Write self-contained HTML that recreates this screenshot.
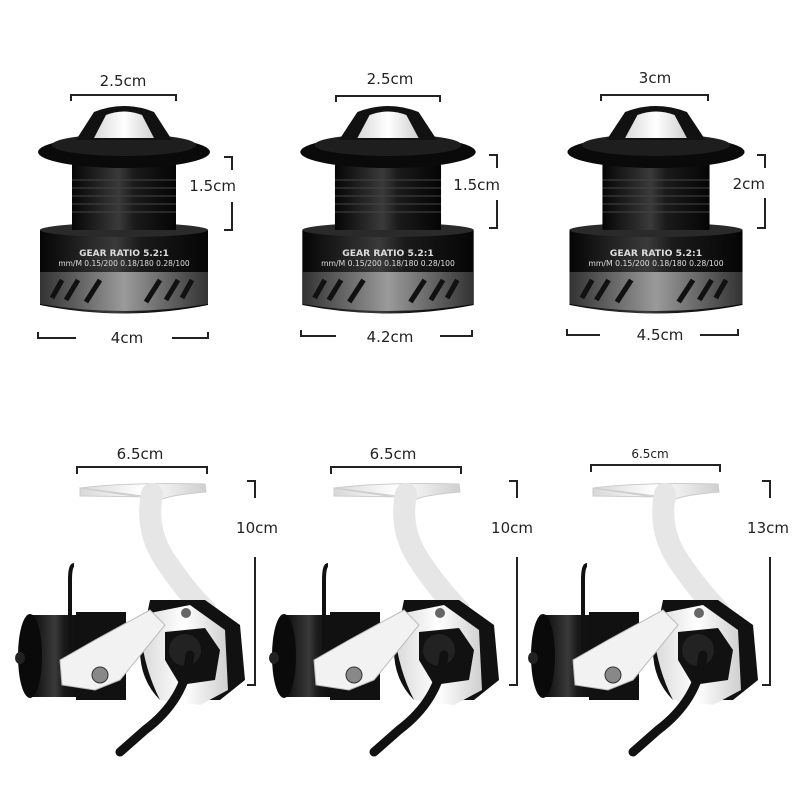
<!DOCTYPE html>
<html><head><meta charset="utf-8"><style>
body{margin:0;background:#fff}
svg{display:block}
text{font-family:"DejaVu Sans","Liberation Sans",sans-serif;fill:#222}
</style></head><body>
<svg width="800" height="800" viewBox="0 0 800 800" xmlns="http://www.w3.org/2000/svg">
<defs>
<linearGradient id="blk" x1="0" x2="1"><stop offset="0" stop-color="#050505"/><stop offset=".45" stop-color="#3a3a3a"/><stop offset=".6" stop-color="#1a1a1a"/><stop offset="1" stop-color="#050505"/></linearGradient>
<linearGradient id="gry" x1="0" x2="1"><stop offset="0" stop-color="#333"/><stop offset=".5" stop-color="#9a9a9a"/><stop offset="1" stop-color="#333"/></linearGradient>
<linearGradient id="wht" x1="0" x2="1"><stop offset="0" stop-color="#d8d8d8"/><stop offset=".5" stop-color="#fff"/><stop offset="1" stop-color="#cfcfcf"/></linearGradient>
<g id="spool">
 <path d="M-84 230 L84 230 L84 305 Q0 322 -84 305 Z" fill="url(#blk)"/>
 <path d="M-84 272 L84 272 L84 304 Q0 318 -84 304 Z" fill="url(#gry)"/>
 <g stroke="#111" stroke-width="5">
  <line x1="-72" y1="298" x2="-62" y2="280"/><line x1="-58" y1="300" x2="-46" y2="280"/><line x1="-38" y1="302" x2="-24" y2="280"/>
  <line x1="22" y1="302" x2="36" y2="280"/><line x1="42" y1="300" x2="54" y2="280"/><line x1="58" y1="298" x2="68" y2="280"/>
 </g>
 <ellipse cx="0" cy="230" rx="84" ry="7" fill="#2a2a2a"/>
 <rect x="-52" y="160" width="104" height="70" fill="url(#blk)"/>
 <g stroke="#444" stroke-width="1"><line x1="-52" y1="180" x2="52" y2="180"/><line x1="-52" y1="188" x2="52" y2="188"/><line x1="-52" y1="196" x2="52" y2="196"/><line x1="-52" y1="204" x2="52" y2="204"/><line x1="-52" y1="212" x2="52" y2="212"/></g>
 <ellipse cx="0" cy="152" rx="86" ry="16" fill="#0a0a0a"/>
 <ellipse cx="0" cy="145" rx="72" ry="11" fill="#1e1e1e"/>
 <path d="M-48 140 L-30 112 Q0 100 30 112 L48 140 Z" fill="#111"/>
 <path d="M-30 138 L-18 115 Q0 108 18 115 L30 138 Z" fill="url(#wht)"/>
 <text x="0" y="256" text-anchor="middle" font-size="9" font-weight="bold" style="fill:#ddd">GEAR RATIO 5.2:1</text>
 <text x="0" y="266" text-anchor="middle" font-size="7.5" style="fill:#ddd">mm/M 0.15/200 0.18/180 0.28/100</text>
</g>
<g id="reel">
 <rect x="28" y="615" width="60" height="82" fill="url(#blk)"/>
 <ellipse cx="30" cy="656" rx="12" ry="42" fill="#0a0a0a"/>
 <ellipse cx="20" cy="658" rx="5" ry="6" fill="#222"/>
 <path d="M70 650 L70 580 Q70 565 74 565" stroke="#111" stroke-width="4" fill="none"/>
 <rect x="76" y="612" width="50" height="88" fill="#111"/>
 <path d="M80 488 Q130 482 205 484 L206 492 Q170 495 160 500 Z M80 488 L80 496 L150 497 Z" fill="url(#wht)" stroke="#ccc" stroke-width="1"/>
 <path d="M152 494 Q145 530 165 560 Q185 590 205 610" stroke="#e6e6e6" stroke-width="22" fill="none" stroke-linecap="round"/>
 <path d="M150 600 L205 600 L240 625 L245 680 L220 700 L160 700 Q140 680 140 650 Z" fill="#111"/>
 <path d="M140 615 L190 605 L225 630 L228 690 L200 705 L160 700 Q140 660 140 615 Z" fill="url(#wht)"/>
 <path d="M60 660 L95 640 L150 610 L165 625 L120 680 L95 690 L62 685 Z" fill="#f2f2f2" stroke="#bbb"/>
 <circle cx="100" cy="675" r="8" fill="#888" stroke="#333"/>
 <circle cx="186" cy="613" r="5" fill="#666"/>
 <path d="M165 632 L205 628 L220 650 L215 680 L180 685 L165 660 Z" fill="#111"/>
 <circle cx="185" cy="650" r="16" fill="#222"/>
 <path d="M190 655 Q185 700 145 730 L120 752" stroke="#111" stroke-width="9" fill="none" stroke-linecap="round"/>
</g>
</defs>

<use href="#spool" transform="translate(124,0)"/>
<use href="#spool" transform="translate(388,0) scale(1.02,1)" />
<use href="#spool" transform="translate(656,0) scale(1.03,1)"/>

<g stroke="#222" stroke-width="2" fill="none">
 <path d="M71 101 V95 H176 V101"/>
 <path d="M336 102 V96 H440 V102"/>
 <path d="M601 101 V95 H708 V101"/>
 <path d="M224 157 H232 V170 M232 202 V230 H224"/>
 <path d="M489 155 H497 V168 M497 200 V228 H489"/>
 <path d="M757 155 H765 V168 M765 198 V228 H757"/>
 <path d="M38 332 V338 H76 M172 338 H208 V332"/>
 <path d="M301 330 V336 H336 M440 336 H472 V330"/>
 <path d="M567 329 V335 H600 M700 335 H738 V329"/>
</g>
<text x="123" y="86" text-anchor="middle" font-size="15">2.5cm</text>
<text x="390" y="84" text-anchor="middle" font-size="15">2.5cm</text>
<text x="655" y="83" text-anchor="middle" font-size="15">3cm</text>
<text x="236" y="191" text-anchor="end" font-size="15">1.5cm</text>
<text x="500" y="190" text-anchor="end" font-size="15">1.5cm</text>
<text x="765" y="189" text-anchor="end" font-size="15">2cm</text>
<text x="127" y="343" text-anchor="middle" font-size="15">4cm</text>
<text x="390" y="342" text-anchor="middle" font-size="15">4.2cm</text>
<text x="660" y="340" text-anchor="middle" font-size="15">4.5cm</text>

<use href="#reel"/>
<use href="#reel" transform="translate(254,0)"/>
<use href="#reel" transform="translate(513,0)"/>

<g stroke="#222" stroke-width="2" fill="none">
 <path d="M77 474 V467 H207 V474"/>
 <path d="M331 474 V467 H461 V474"/>
 <path d="M591 472 V465 H720 V472"/>
 <path d="M247 481 H255 V498 M255 557 V685 H247"/>
 <path d="M509 481 H517 V498 M517 557 V685 H509"/>
 <path d="M762 481 H770 V498 M770 557 V685 H762"/>
</g>
<text x="140" y="459" text-anchor="middle" font-size="15">6.5cm</text>
<text x="393" y="459" text-anchor="middle" font-size="15">6.5cm</text>
<text x="650" y="458" text-anchor="middle" font-size="12">6.5cm</text>
<text x="278" y="533" text-anchor="end" font-size="15">10cm</text>
<text x="533" y="533" text-anchor="end" font-size="15">10cm</text>
<text x="789" y="533" text-anchor="end" font-size="15">13cm</text>
</svg>
</body></html>
